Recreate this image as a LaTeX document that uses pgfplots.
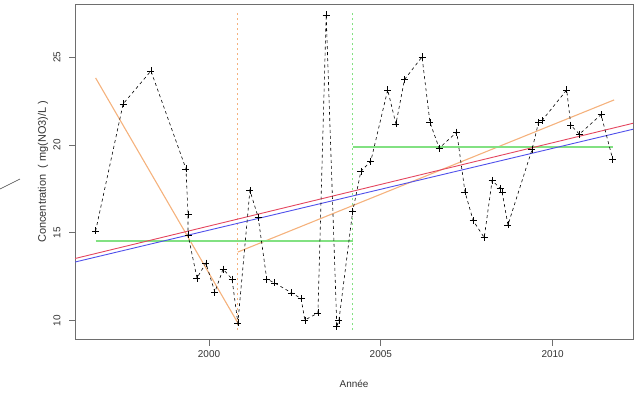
\documentclass[border=0pt]{standalone}
\usepackage{pgfplots}
\pgfplotsset{compat=1.18}
\usepackage{fontspec}
\setmainfont{Liberation Sans}
\definecolor{frame}{RGB}{110,110,110}
\definecolor{lorange}{RGB}{245,178,125}
\definecolor{lgreen}{RGB}{130,225,130}
\definecolor{lred}{RGB}{228,70,95}
\definecolor{lblue}{RGB}{80,80,235}
\begin{document}
\begin{tikzpicture}[x=1bp,y=1bp]
\path[use as bounding box] (0,0) rectangle (641,397);
\draw[black!75, line width=0.6bp] (0,208) -- (20,218);
\begin{axis}[
  at={(75bp,57.5bp)}, anchor=south west,
  width=558bp, height=335.5bp, scale only axis,
  xmin=1996.10, xmax=2012.34, ymin=8.92, ymax=28.02,
  axis line style={frame, line width=0.9bp},
  xtick={2000,2005,2010}, ytick={10,15,20,25},
  xtick pos=bottom, ytick pos=left, tick align=outside,
  major tick length=6bp,
  tick style={frame, line width=0.7bp},
  /pgf/number format/assume math mode=true,
  /pgf/number format/1000 sep={},
  ticklabel style={font=\fontsize{10}{12}\selectfont, text=black!80},
  yticklabel style={rotate=90, anchor=south},
  xticklabel shift=2bp, yticklabel shift=5bp,
  xlabel={Année}, ylabel={Concentration\ \ ( mg(NO3)/L )},
  every axis x label/.style={at={(axis description cs:0.5,0)}, anchor=center, yshift=-44.5bp, font=\fontsize{10}{12}\selectfont, text=black!80},
  every axis y label/.style={at={(axis description cs:-0.0573,0.5)}, rotate=90, anchor=center, font=\fontsize{11}{13}\selectfont, text=black!80},
  clip=true,
]
% vertical breakpoints
\addplot[lorange, line width=0.8bp, dash pattern=on 2bp off 3bp] coordinates {(2000.82,9.46) (2000.82,27.57)};
\addplot[lgreen, line width=0.8bp, dash pattern=on 2bp off 3bp] coordinates {(2004.17,9.46) (2004.17,27.57)};
% segmented fits
\addplot[lorange, line width=1.1bp] coordinates {(1996.70,23.81) (2000.84,9.86)};
\addplot[lorange, line width=1.1bp] coordinates {(2000.84,13.90) (2011.79,22.56)};
\addplot[lgreen, line width=1.4bp] coordinates {(1996.70,14.53) (2004.18,14.53)};
\addplot[lgreen, line width=1.4bp] coordinates {(2004.18,19.87) (2011.75,19.87)};
% regressions
\addplot[lred, line width=0.9bp] coordinates {(1996.10,13.53) (2012.34,21.23)};
\addplot[lblue, line width=0.9bp] coordinates {(1996.10,13.33) (2012.34,20.89)};
% data
\addplot[black, line width=0.6bp, dash pattern=on 3bp off 3bp, mark=+, mark size=3.5bp, mark options={solid, line width=0.7bp}] coordinates {
(1996.70,15.10) (1997.50,22.33) (1998.31,24.21) (1999.33,18.63) (1999.39,16.04)
(1999.39,14.87) (1999.65,12.42) (1999.91,13.27) (2000.17,11.62) (2000.41,12.93)
(2000.67,12.36) (2000.84,9.86) (2001.19,17.40) (2001.43,15.89) (2001.68,12.36)
(2001.91,12.14) (2002.41,11.57) (2002.68,11.25) (2002.79,10.03) (2003.17,10.43)
(2003.41,27.40) (2003.72,9.65) (2003.78,9.99) (2004.18,16.20) (2004.42,18.49)
(2004.71,19.08) (2005.20,23.13) (2005.44,21.19) (2005.69,23.72) (2006.20,25.01)
(2006.43,21.28) (2006.70,19.81) (2007.21,20.73) (2007.45,17.32) (2007.69,15.68)
(2008.01,14.72) (2008.24,17.98) (2008.47,17.53) (2008.53,17.32) (2008.70,15.44)
(2009.40,19.73) (2009.59,21.28) (2009.69,21.38) (2010.41,23.13) (2010.53,21.12)
(2010.78,20.61) (2011.41,21.72) (2011.75,19.18)
};
\end{axis}
\end{tikzpicture}
\end{document}
